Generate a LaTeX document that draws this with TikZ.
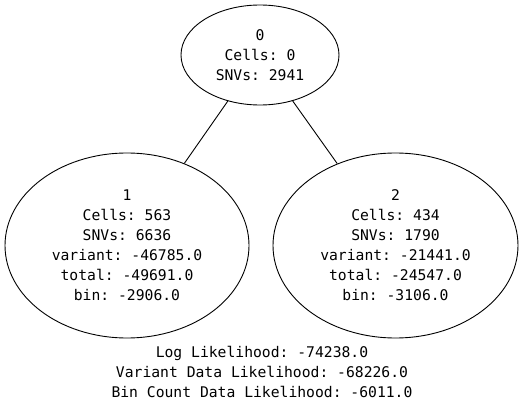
\documentclass[tikz,border=0pt]{standalone}
\usepackage{fontspec}
\setmonofont{DejaVu Sans Mono}
\usetikzlibrary{shapes.geometric}
\tikzset{
  treenode/.style={draw, ellipse, inner sep=0pt, line width=0.9pt,
    align=center, font=\labelfont},
  treeedge/.style={draw, line width=0.9pt},
  infolabel/.style={inner sep=0pt, align=center, font=\labelfont}
}
\newcommand{\labelfont}{\ttfamily\fontsize{14.7}{20}\selectfont}
\begin{document}
\begin{tikzpicture}[x=1pt,y=-1pt]
  \useasboundingbox[fill=white] (0,0) rectangle (528,409);
  % tree nodes
  \node[treenode, minimum width=158pt, minimum height=100pt] (n0) at (260,55)
    {0\\Cells: 0\\SNVs: 2941};
  \node[treenode, minimum width=244pt, minimum height=185pt] (n1) at (127,245.5)
    {1\\Cells: 563\\SNVs: 6636\\variant: -46785.0\\total: -49691.0\\bin: -2906.0};
  \node[treenode, minimum width=245pt, minimum height=185pt] (n2) at (395.5,245.5)
    {2\\Cells: 434\\SNVs: 1790\\variant: -21441.0\\total: -24547.0\\bin: -3106.0};
  % edges
  \draw[treeedge] (n0) -- (n1);
  \draw[treeedge] (n0) -- (n2);
  % likelihood summary
  \node[infolabel] (summary) at (262,372)
    {Log Likelihood: -74238.0\\Variant Data Likelihood: -68226.0\\Bin Count Data Likelihood: -6011.0};
\end{tikzpicture}
\end{document}
